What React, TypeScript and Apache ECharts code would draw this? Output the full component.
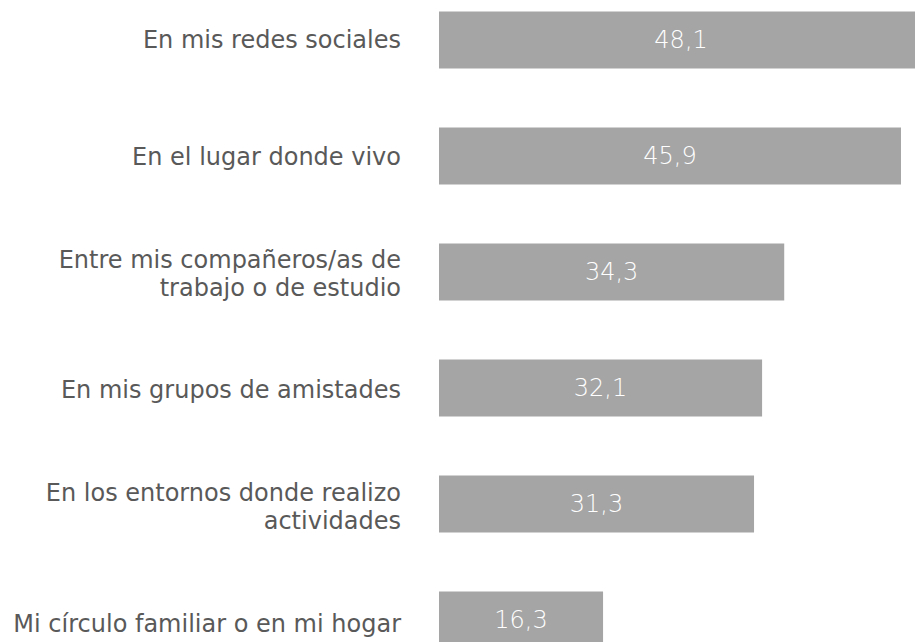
import React, { useEffect, useRef } from "react";
import * as echarts from "echarts";

const categories = [
  "En mis redes sociales",
  "En el lugar donde vivo",
  "Entre mis compañeros/as de\ntrabajo o de estudio",
  "En mis grupos de amistades",
  "En los entornos donde realizo\nactividades",
  "Mi círculo familiar o en mi hogar",
];
const values = [48.1, 45.9, 34.3, 32.1, 31.3, 16.3];

export default function App() {
  const ref = useRef<HTMLDivElement>(null);
  useEffect(() => {
    document.body.style.overflow = "hidden";
    const chart = echarts.init(ref.current!, null, { renderer: "svg" });
    chart.setOption({
      animation: false,
      grid: [
        { left: 439, top: 0, width: 503.25, height: 696 },
        { left: 439, top: -6, width: 400, height: 706 },
      ],
      xAxis: [
        { type: "value", min: 0, max: 50, show: false, gridIndex: 0 },
        { type: "value", min: 0, max: 1, show: false, gridIndex: 1 },
      ],
      yAxis: [
        {
          type: "category",
          gridIndex: 0,
          data: categories,
          inverse: true,
          show: false,
        },
        {
          type: "category",
          gridIndex: 1,
          data: categories,
          inverse: true,
          axisLine: { show: false },
          axisTick: { show: false },
          axisLabel: {
            margin: 38,
            color: "#595959",
            fontSize: 24,
            lineHeight: 28,
            fontFamily: "'DejaVu Sans', sans-serif",
            align: "right",
          },
        },
      ],
      series: [
        {
          type: "bar",
          xAxisIndex: 0,
          yAxisIndex: 0,
          data: values,
          barWidth: 57,
          itemStyle: { color: "#a5a5a5" },
          label: {
            show: true,
            position: "inside",
            color: "#ffffff",
            fontSize: 24,
            fontWeight: 200,
            fontFamily: "'DejaVu Sans', sans-serif",
            formatter: (p: any) => String(p.value).replace(".", ","),
          },
        },
      ],
    });
    return () => chart.dispose();
  }, []);
  return (
    <div
      style={{
        position: "fixed",
        left: 0,
        top: 0,
        width: 915,
        height: 642,
        overflow: "hidden",
        background: "#fff",
      }}
    >
      <div
        ref={ref}
        style={{ position: "absolute", left: 0, top: -18, width: 1000, height: 720 }}
      />
    </div>
  );
}
